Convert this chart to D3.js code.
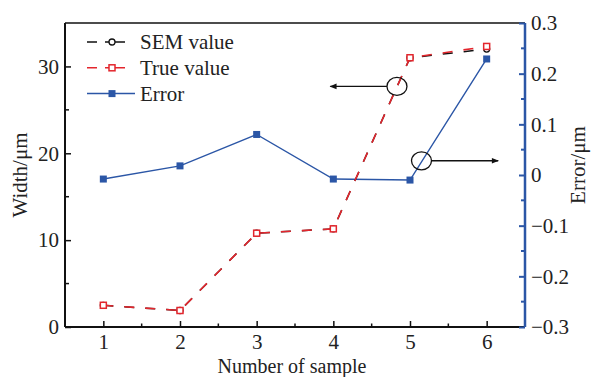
<!DOCTYPE html>
<meta charset="utf-8">
<html>
<head>
<style>
  body { margin: 0; background: #fff; }
  text { font-family: "Liberation Serif", "DejaVu Serif", serif; fill: #222; }
</style>
</head>
<body>
<div id="chart"></div>
<script src="https://d3js.org/d3.v7.min.js"></script>
<script>

  // data
  var samples   = [1, 2, 3, 4, 5, 6];
  var semValue  = [2.5, 1.9, 10.8, 11.3, 31.0, 32.0];
  var trueValue = [2.5, 1.9, 10.8, 11.3, 31.0, 32.3];
  var errValue  = [-0.008, 0.018, 0.080, -0.008, -0.010, 0.229];
  var leftTicks  = [0, 10, 20, 30];
  var rightTicks = [-0.3, -0.2, -0.1, 0, 0.1, 0.2, 0.3];
  var legendNames = ["SEM value", "True value", "Error"];

  // callout circles with arrows: [x, y on axis, arrow end x, which axis]
  var callouts = [
    {cx: 4.83, cy: 27.7, to: 3.96, axis: "left"},
    {cx: 5.15, cy: 0.028, to: 6.15, axis: "right"}
  ];

  var red = "#e3262d", blue = "#2b56a6";

  var margin = {top: 23, right: 66, bottom: 50, left: 65},
      width = 591 - margin.left - margin.right,
      height = 377 - margin.top - margin.bottom;

  var svg = d3.select("#chart")
    .append("svg")
      .attr("width", 591)
      .attr("height", 377)
    .append("g")
      .attr("transform", "translate(" + margin.left + "," + margin.top + ")");

  var x = d3.scaleLinear().domain([0.5, 6.5]).range([0, width]);
  var yL = d3.scaleLinear().domain([0, 35]).range([height, 0]);
  var yR = d3.scaleLinear().domain([-0.3, 0.3]).range([height, 0]);

  // top border
  svg.append("line")
    .attr("x1", 0).attr("x2", width).attr("y1", 0).attr("y2", 0)
    .attr("stroke", "#111").attr("stroke-width", 1.5);

  // bottom axis
  var xAxis = svg.append("g")
    .attr("transform", "translate(0," + height + ")")
    .call(d3.axisBottom(x).tickValues(samples).tickSize(-6).tickPadding(7).tickFormat(d3.format("d")));
  xAxis.append("g").selectAll("line")
    .data([1.5, 2.5, 3.5, 4.5, 5.5]).enter().append("line")
    .attr("x1", function(d) { return x(d); }).attr("x2", function(d) { return x(d); })
    .attr("y1", 0).attr("y2", -3.5).attr("stroke", "#111").attr("stroke-width", 1.5);

  // left axis
  var lAxis = svg.append("g")
    .call(d3.axisLeft(yL).tickValues(leftTicks).tickSize(-6).tickPadding(6));
  lAxis.append("g").selectAll("line")
    .data([5, 15, 25]).enter().append("line")
    .attr("y1", function(d) { return yL(d); }).attr("y2", function(d) { return yL(d); })
    .attr("x1", 0).attr("x2", 4).attr("stroke", "#111").attr("stroke-width", 1.5);

  // right axis (blue)
  var rAxis = svg.append("g")
    .attr("transform", "translate(" + width + ",0)")
    .call(d3.axisRight(yR).tickValues(rightTicks).tickSize(-6).tickPadding(6)
      .tickFormat(function(d) { return d < 0 ? "\u2212" + Math.abs(d) : String(d); }));
  rAxis.append("g").selectAll("line")
    .data([-0.25, -0.15, -0.05, 0.05, 0.15, 0.25]).enter().append("line")
    .attr("y1", function(d) { return yR(d); }).attr("y2", function(d) { return yR(d); })
    .attr("x1", 0).attr("x2", -4).attr("stroke", blue).attr("stroke-width", 2);

  [xAxis, lAxis].forEach(function(a) {
    a.select(".domain").attr("stroke", "#111").attr("stroke-width", 2);
    a.selectAll(".tick line").attr("stroke", "#111").attr("stroke-width", 1.5);
  });
  rAxis.select(".domain").attr("stroke", blue).attr("stroke-width", 2.5);
  rAxis.selectAll(".tick line").attr("stroke", blue).attr("stroke-width", 2);
  [xAxis, lAxis, rAxis].forEach(function(a) {
    a.selectAll(".tick text").style("font-size", "21px").attr("fill", "#222")
      .style("font-family", "'Liberation Serif', serif");
  });
  xAxis.select(".domain").attr("d", "M0,0H" + width);
  lAxis.select(".domain").attr("d", "M0," + height + "V0");
  rAxis.select(".domain").attr("d", "M0," + height + "V0");

  // axis titles
  svg.append("text")
    .attr("transform", "translate(" + (-38) + "," + (height / 2) + ") rotate(-90)")
    .attr("text-anchor", "middle").style("font-size", "21px")
    .text("Width/\u03bcm");
  svg.append("text")
    .attr("transform", "translate(" + (width + 60) + "," + (height / 2 - 10) + ") rotate(-90)")
    .attr("text-anchor", "middle").style("font-size", "21px")
    .text("Error/\u03bcm");
  svg.append("text")
    .attr("x", width / 2 - 3).attr("y", height + 45.5)
    .attr("text-anchor", "middle").style("font-size", "20px")
    .text("Number of sample");

  // lines
  var sem = samples.map(function(s, i) { return {x: s, y: semValue[i]}; });
  var tru = samples.map(function(s, i) { return {x: s, y: trueValue[i]}; });
  var err = samples.map(function(s, i) { return {x: s, y: errValue[i]}; });

  var lineL = d3.line().x(function(d) { return x(d.x); }).y(function(d) { return yL(d.y); });
  var lineR = d3.line().x(function(d) { return x(d.x); }).y(function(d) { return yR(d.y); });

  svg.append("path").datum(err)
    .attr("fill", "none").attr("stroke", blue).attr("stroke-width", 1.4).attr("d", lineR);
  svg.selectAll(".errPt").data(err).enter().append("rect")
    .attr("x", function(d) { return x(d.x) - 3.5; })
    .attr("y", function(d) { return yR(d.y) - 3.5; })
    .attr("width", 7).attr("height", 7).attr("fill", blue);

  svg.append("path").datum(sem)
    .attr("fill", "none").attr("stroke", "#111").attr("stroke-width", 1.5)
    .attr("stroke-dasharray", "10,11").attr("d", lineL);
  svg.selectAll(".semPt").data(sem).enter().append("circle")
    .attr("cx", function(d) { return x(d.x); })
    .attr("cy", function(d) { return yL(d.y); })
    .attr("r", 3).attr("fill", "#fff").attr("stroke", "#111").attr("stroke-width", 1.3);

  svg.append("path").datum(tru)
    .attr("fill", "none").attr("stroke", red).attr("stroke-width", 1.6)
    .attr("stroke-dasharray", "10,11").attr("d", lineL);
  svg.selectAll(".truPt").data(tru).enter().append("rect")
    .attr("x", function(d) { return x(d.x) - 3; })
    .attr("y", function(d) { return yL(d.y) - 3; })
    .attr("width", 6).attr("height", 6)
    .attr("fill", "#fff").attr("stroke", red).attr("stroke-width", 1.5);

  // callouts
  svg.append("defs").append("marker")
    .attr("id", "arrow").attr("viewBox", "0 0 10 10").attr("refX", 9).attr("refY", 5)
    .attr("markerWidth", 7).attr("markerHeight", 5).attr("orient", "auto-start-reverse")
    .append("path").attr("d", "M0,1L10,5L0,9Z").attr("fill", "#111");

  callouts.forEach(function(c) {
    var cy = c.axis === "left" ? yL(c.cy) : yR(c.cy);
    var cx = x(c.cx), rx = 10, ry = 9;
    svg.append("ellipse")
      .attr("cx", cx).attr("cy", cy).attr("rx", rx).attr("ry", ry)
      .attr("fill", "none").attr("stroke", "#111").attr("stroke-width", 1.3);
    var start = x(c.to) < cx ? cx - rx : cx + rx;
    svg.append("line")
      .attr("x1", start).attr("x2", x(c.to)).attr("y1", cy).attr("y2", cy)
      .attr("stroke", "#111").attr("stroke-width", 1.4)
      .attr("marker-end", "url(#arrow)");
  });

  // legend
  var legend = svg.append("g").attr("transform", "translate(22,19)");
  legendNames.forEach(function(name, i) {
    var g = legend.append("g").attr("transform", "translate(0," + (i * 25.8) + ")");
    var col = i === 0 ? "#111" : (i === 1 ? red : blue);
    g.append("line").attr("x1", 0).attr("x2", i < 2 ? 38 : 48).attr("y1", 0).attr("y2", 0)
      .attr("stroke", col).attr("stroke-width", 1.5)
      .attr("stroke-dasharray", i < 2 ? "10,8,20,100" : null);
    if (i === 0) {
      g.append("circle").attr("cx", 25).attr("cy", 0).attr("r", 3)
        .attr("fill", "#fff").attr("stroke", col).attr("stroke-width", 1.3);
    } else if (i === 1) {
      g.append("rect").attr("x", 22).attr("y", -3).attr("width", 6).attr("height", 6)
        .attr("fill", "#fff").attr("stroke", col).attr("stroke-width", 1.5);
    } else {
      g.append("rect").attr("x", 21.5).attr("y", -3.5).attr("width", 7).attr("height", 7)
        .attr("fill", col);
    }
    g.append("text").attr("x", 53).attr("y", 0).attr("dy", "0.35em")
      .style("font-size", "21px").text(name);
  });

</script>
</body>
</html>
